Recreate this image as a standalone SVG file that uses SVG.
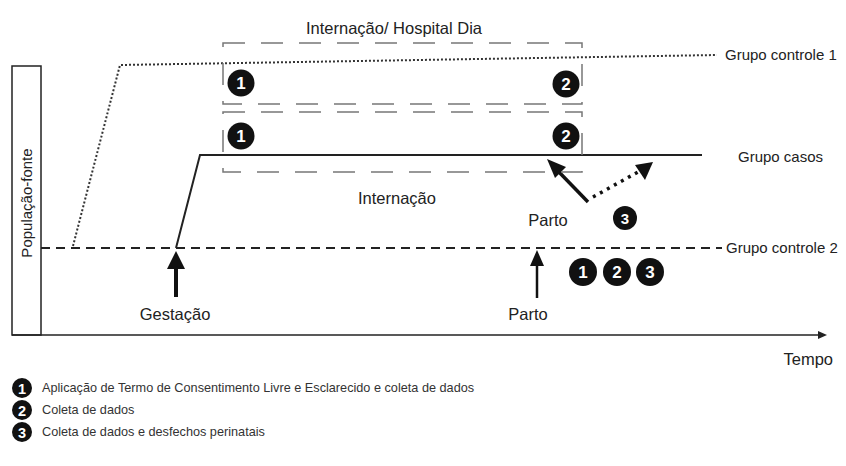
<svg xmlns="http://www.w3.org/2000/svg" width="846" height="466" viewBox="0 0 846 466">
<style>
text{font-family:"Liberation Sans",Arial,sans-serif;fill:#222}
.lbl{font-size:16.5px}
.grp{font-size:15px}
.leg{font-size:12.7px;fill:#333}
.num{fill:#fff;font-weight:bold;text-anchor:middle}
.box{fill:none;stroke:#777;stroke-width:1.5;stroke-dasharray:22 16}
.dot{fill:#111}
</style>
<rect x="0" y="0" width="846" height="466" fill="#fff"/>

<g id="axis">
<rect x="12" y="66" width="29" height="269" fill="none" stroke="#222" stroke-width="1.5"/>
<line x1="12" y1="335" x2="822" y2="335" stroke="#222" stroke-width="1.5"/>
<path d="M818,331L827,335L818,339z" fill="#222"/>
<text class="grp" transform="translate(32,203) rotate(-90)" text-anchor="middle">População-fonte</text>
<text class="lbl" x="833" y="365" text-anchor="end">Tempo</text>
</g>

<g id="connectors">
<polyline points="73,246 120,65 717,55" fill="none" stroke="#333" stroke-width="2" stroke-dasharray="2 2"/>
<line x1="41" y1="248" x2="722" y2="248" stroke="#222" stroke-width="2" stroke-dasharray="9 6"/>
<polyline points="176,248 200,155 702,155" fill="none" stroke="#222" stroke-width="2"/>
<line x1="176" y1="297" x2="176" y2="266" stroke="#111" stroke-width="4"/>
<path d="M167,269L176,251L185,269z" fill="#111"/>
<line x1="537" y1="298" x2="537" y2="263" stroke="#111" stroke-width="2.5"/>
<path d="M530,266L537,250L544,266z" fill="#111"/>
<line x1="588" y1="202" x2="558" y2="171" stroke="#111" stroke-width="3.5"/>
<path d="M547,159L566,167L555,178z" fill="#111"/>
<line x1="593" y1="197" x2="638" y2="172" stroke="#111" stroke-width="3.5" stroke-dasharray="3 5"/>
<path d="M653,162L645,180L635,165z" fill="#111"/>
</g>

<g id="internacao-hospital-dia">
<rect class="box" x="223" y="43" width="359" height="61"/>
<text class="lbl" x="394" y="34" text-anchor="middle">Internação/ Hospital Dia</text>
<circle class="dot" cx="241" cy="83" r="13.5"/><text class="num" x="241" y="89" font-size="17">1</text>
<circle class="dot" cx="566" cy="84" r="13.5"/><text class="num" x="566" y="90" font-size="17">2</text>
</g>

<g id="internacao">
<rect class="box" x="223" y="112" width="359" height="60"/>
<circle class="dot" cx="241" cy="136" r="13.5"/><text class="num" x="241" y="142" font-size="17">1</text>
<circle class="dot" cx="566" cy="136" r="13.5"/><text class="num" x="566" y="142" font-size="17">2</text>
<text class="lbl" x="397" y="204" text-anchor="middle">Internação</text>
</g>

<g id="grupo-controle-1"><text class="grp" x="725" y="60">Grupo controle 1</text></g>
<g id="grupo-casos"><text class="grp" x="738" y="162">Grupo casos</text></g>
<g id="grupo-controle-2"><text class="grp" x="726" y="253">Grupo controle 2</text></g>

<g id="parto-casos">
<text class="lbl" x="548" y="226" text-anchor="middle">Parto</text>
<circle class="dot" cx="625" cy="218" r="12"/><text class="num" x="625" y="223.5" font-size="15">3</text>
</g>

<g id="gestacao"><text class="lbl" x="175" y="320" text-anchor="middle">Gestação</text></g>

<g id="parto-controle">
<text class="lbl" x="528" y="320" text-anchor="middle">Parto</text>
<circle class="dot" cx="583" cy="272" r="14"/><text class="num" x="583" y="278" font-size="17">1</text>
<circle class="dot" cx="617" cy="272" r="14"/><text class="num" x="617" y="278" font-size="17">2</text>
<circle class="dot" cx="650" cy="272" r="14"/><text class="num" x="650" y="278" font-size="17">3</text>
</g>

<g id="legend">
<circle class="dot" cx="22" cy="388" r="10"/><text class="num" x="22" y="393.5" font-size="14.5">1</text>
<text class="leg" x="42" y="392">Aplicação de Termo de Consentimento Livre e Esclarecido e coleta de dados</text>
<circle class="dot" cx="22" cy="410" r="10"/><text class="num" x="22" y="415.5" font-size="14.5">2</text>
<text class="leg" x="42" y="414">Coleta de dados</text>
<circle class="dot" cx="22" cy="432" r="10"/><text class="num" x="22" y="437.5" font-size="14.5">3</text>
<text class="leg" x="42" y="436">Coleta de dados e desfechos perinatais</text>
</g>
</svg>
